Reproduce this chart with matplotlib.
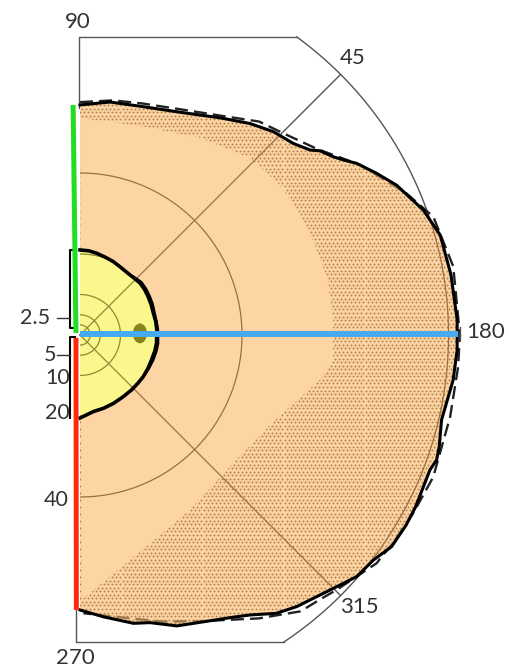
import numpy as np
import matplotlib.pyplot as plt
from matplotlib.patches import Polygon, Ellipse

plt.rcParams['font.family'] = ['Lato', 'DejaVu Sans']

# meridian angle in degrees (0 = horizontal to the right), eccentricity in degrees
outer_ang = [90, 82.7, 75.3, 65.8, 57.2, 51.2, 46.4, 41.9, 38.8, 37.5, 35.1, 33.6, 31.8,
             28.6, 25.3, 20.0, 15.5, 9.2, 2.3, -2.3, -6.9, -13.2, -17.3, -19.3, -21.1,
             -23.8, -27.2, -30.3, -34.2, -37.5, -41.1, -43.3, -47.9, -51.4, -54.8, -58.7,
             -60.9, -66.7, -71.6, -76.3, -79.5, -85.3, -90]
outer_ecc = [56.8, 58.0, 58.4, 60.3, 63.8, 67.0, 69.3, 70.8, 72.9, 74.7, 76.5, 78.1, 80.4,
             83.4, 86.5, 90.2, 92.3, 92.8, 93.2, 93.2, 92.8, 91.7, 92.9, 93.3, 92.6,
             92.7, 93.1, 93.2, 93.0, 91.3, 90.7, 89.4, 87.1, 85.8, 84.1, 80.9,
             79.6, 77.1, 75.7, 73.1, 72.4, 69.8, 67.9]

dashed_ang = [90, 82, 75, 66, 57, 50, 44.8, 38, 31.3, 23.4, 18.5, 10.4, 0, -4.8, -12.5,
              -21.9, -28.1, -33.1, -37.6, -44.8, -47.4, -51.4, -57.8, -66.7, -73.8, -81.9, -89.3]
dashed_ecc = [57.5, 58.5, 59.2, 61.0, 64.5, 68.8, 70.7, 74.5, 80.9, 87.9, 92.0, 93.7, 93.8, 93.7, 93.6,
              94.0, 93.3, 92.8, 92.4, 89.3, 88.3, 87.3, 82.7, 76.9, 73.7, 70.4, 68.7]

central_ang = [90, 84, 78.4, 72, 65.6, 59, 52.9, 46, 40.8, 35, 29.3, 23, 16.5, 10, 3.7, -6.2,
               -12, -19.2, -26, -33.4, -40, -46.8, -55, -64.0, -72, -80.2, -90]
central_ecc = [21.0, 20.9, 20.6, 20.2, 19.9, 19.5, 19.3, 19.4, 19.6, 19.5, 19.3, 19.1, 18.9, 19.0, 19.0, 19.0,
               18.9, 18.7, 18.7, 18.7, 18.6, 18.6, 18.6, 18.8, 19.0, 19.2, 20.5]

# second, slightly wider central isopter on the temporal side
central2_ang = [48, 40.8, 35, 29.3, 23, 16.5, 10, 3.7, -6.2, -12, -19.2, -26, -32]
central2_ecc = [19.6, 20.1, 20.0, 19.8, 19.6, 19.3, 19.3, 19.4, 19.5, 19.4, 19.2, 19.0, 18.8]

# zone without stipple
plain_ang = [90, 74.0, 58.7, 46.2, 36.9, 28.6, 21.0, 12.5, 3.4, -5.6, -10.6, -23.6, -39.9, -57.8, -77.5, -89.6]
plain_ecc = [53.6, 53.7, 57.0, 60.6, 61.7, 61.9, 62.1, 62.7, 62.6, 62.8, 60.3, 52.5, 49.3, 51.0, 56.9, 65.4]

ring_ecc = [2.5, 5, 10, 20, 40]
ring_labels = ['2.5', '5', '10', '20', '40']
frame_r = 91
blind_spot = (14.8, 0.4)

ORANGE = '#fdd5a4'
YELLOW = '#faf88c'
BROWN = '#9a7040'
OLIVE = '#8f8a35'
GREY = '#555555'


def to_xy(ang, ecc):
    a = np.radians(np.asarray(ang, float))
    r = np.asarray(ecc, float)
    return r * np.cos(a), r * np.sin(a)


def guides(ax, color, lw, z, clip, rings):
    lines = []
    t = np.linspace(-90, 90, 200)
    for r in rings:
        lines += ax.plot(*to_xy(t, np.full_like(t, r)), color=color, lw=lw, zorder=z)
    t = np.linspace(-60, 57, 200)
    lines += ax.plot(*to_xy(t, np.full_like(t, frame_r)), color=color, lw=lw, zorder=z)
    for a in (45, -45):
        lines += ax.plot(*to_xy([a, a], [0, frame_r]), color=color, lw=lw, zorder=z)
    for ln in lines:
        ln.set_clip_path(clip)
    return lines


fig = plt.figure(figsize=(5.1, 6.7), dpi=100)
ax = fig.add_axes([0, 0, 1, 1])
ax.set_xlim(-80 / 4.05, 430 / 4.05)
ax.set_ylim(-335 / 4.05, 335 / 4.05)
ax.axis('off')

# outer frame
top_y, bot_y = 73.6, -75.8
top_x = np.sqrt(frame_r**2 - top_y**2)
bot_x = np.sqrt(frame_r**2 - bot_y**2)
ax.plot([-0.3, -0.3, top_x], [56, top_y, top_y], color=GREY, lw=1.0, zorder=1)
ax.plot([-0.9, -0.9, bot_x], [-67, bot_y, bot_y], color=GREY, lw=1.0, zorder=1)
t = np.linspace(np.degrees(np.arcsin(bot_y / frame_r)), np.degrees(np.arcsin(top_y / frame_r)), 300)
ax.plot(*to_xy(t, np.full_like(t, frame_r)), color=GREY, lw=1.0, zorder=1)
for a in (45, -45):
    ax.plot(*to_xy([a, a], [0, frame_r]), color=GREY, lw=1.0, zorder=1)

# dashed isopter
dx, dy = to_xy(dashed_ang, dashed_ecc)
ax.plot(dx, dy, color='#222222', lw=1.7, dashes=(5.5, 2.6), zorder=2)

# peripheral field
ox, oy = to_xy(outer_ang, outer_ecc)
field = Polygon(np.column_stack([ox, oy]), closed=True, facecolor=ORANGE, edgecolor='none', zorder=3)
ax.add_patch(field)

# stipple texture
gx, gy = np.meshgrid(np.arange(0, 96, 1.0), np.arange(-72, 62, 0.87))
gx = gx + 0.5 * (np.arange(gx.shape[0])[:, None] % 2)
dots = ax.scatter(gx.ravel(), gy.ravel(), s=2.0, c='#b5834f', linewidths=0, zorder=4)
dots.set_clip_path(field)

px, py = to_xy(plain_ang, plain_ecc)
ax.add_patch(Polygon(np.column_stack([px, py]), closed=True, facecolor=ORANGE,
                     edgecolor='none', zorder=5))

guides(ax, BROWN, 0.9, 6, field, [40])
inner_dash = ax.plot(dx, dy, color='#9a7850', lw=1.7, dashes=(5.5, 2.6), zorder=6)[0]
inner_dash.set_clip_path(field)

# central field
cx, cy = to_xy(central_ang, central_ecc)
central = Polygon(np.column_stack([cx, cy]), closed=True, facecolor=YELLOW, edgecolor='none', zorder=7)
ax.add_patch(central)
guides(ax, OLIVE, 0.9, 8, central, ring_ecc[:4])
ax.add_patch(Ellipse(blind_spot, 3.5, 4.9, facecolor='#878420', edgecolor='none', zorder=8))

ax.plot(*to_xy(central2_ang, central2_ecc), color='black', lw=1.2, zorder=9)
ax.plot(cx, cy, color='black', lw=2.6, zorder=9, solid_joinstyle='round')
ax.plot(ox, oy, color='black', lw=2.2, zorder=9, solid_joinstyle='round')

# bracket along the vertical meridian
ax.plot([-1.2, -2.5, -2.5, -1.4], [21.0, 21.0, 1.7, 1.7], color='black', lw=1.5, zorder=9)
ax.plot([-1.2, -2.5, -2.5], [-0.5, -0.5, -20.5], color='black', lw=1.5, zorder=9)

# meridian markers
ax.plot([-1.7, -1.0], [56.8, 0.5], color='#22dd22', lw=3.6, zorder=10, solid_capstyle='butt')
ax.plot([-1.0, -0.9], [-0.7, -67.9], color='#ff2a0a', lw=3.6, zorder=10, solid_capstyle='butt')
ax.plot([0, 93.3], [0.2, 0.2], color='#46aaf0', lw=4.3, zorder=10, solid_capstyle='butt')
ax.plot([93.8, 93.8], [-1.2, 2.0], color=GREY, lw=1.0, zorder=10)

# ticks for the eccentricity labels
ax.plot([-5.6, -2.5], [4.2, 4.2], color='#333333', lw=1.0, zorder=10)
ax.plot([-5.6, -2.5], [-4.9, -4.9], color='#333333', lw=1.0, zorder=10)

txt = dict(color='#333333', ha='center', va='center', zorder=11)
for label, pos in zip(['90', '45', '180', '315', '270'],
                      [(-0.6, 77.4), (67.2, 68.3), (100.1, 0.7), (68.9, -67.2), (-1.2, -79.75)]):
    ax.text(*pos, label, fontsize=16, **txt)
for label, pos in zip(ring_labels, [(-11.1, 4.2), (-7.4, -4.9), (-5.4, -10.6), (-5.7, -19.3), (-5.9, -40.7)]):
    ax.text(*pos, label, fontsize=15.5, **txt)

fig.savefig('out.png', dpi=100)
